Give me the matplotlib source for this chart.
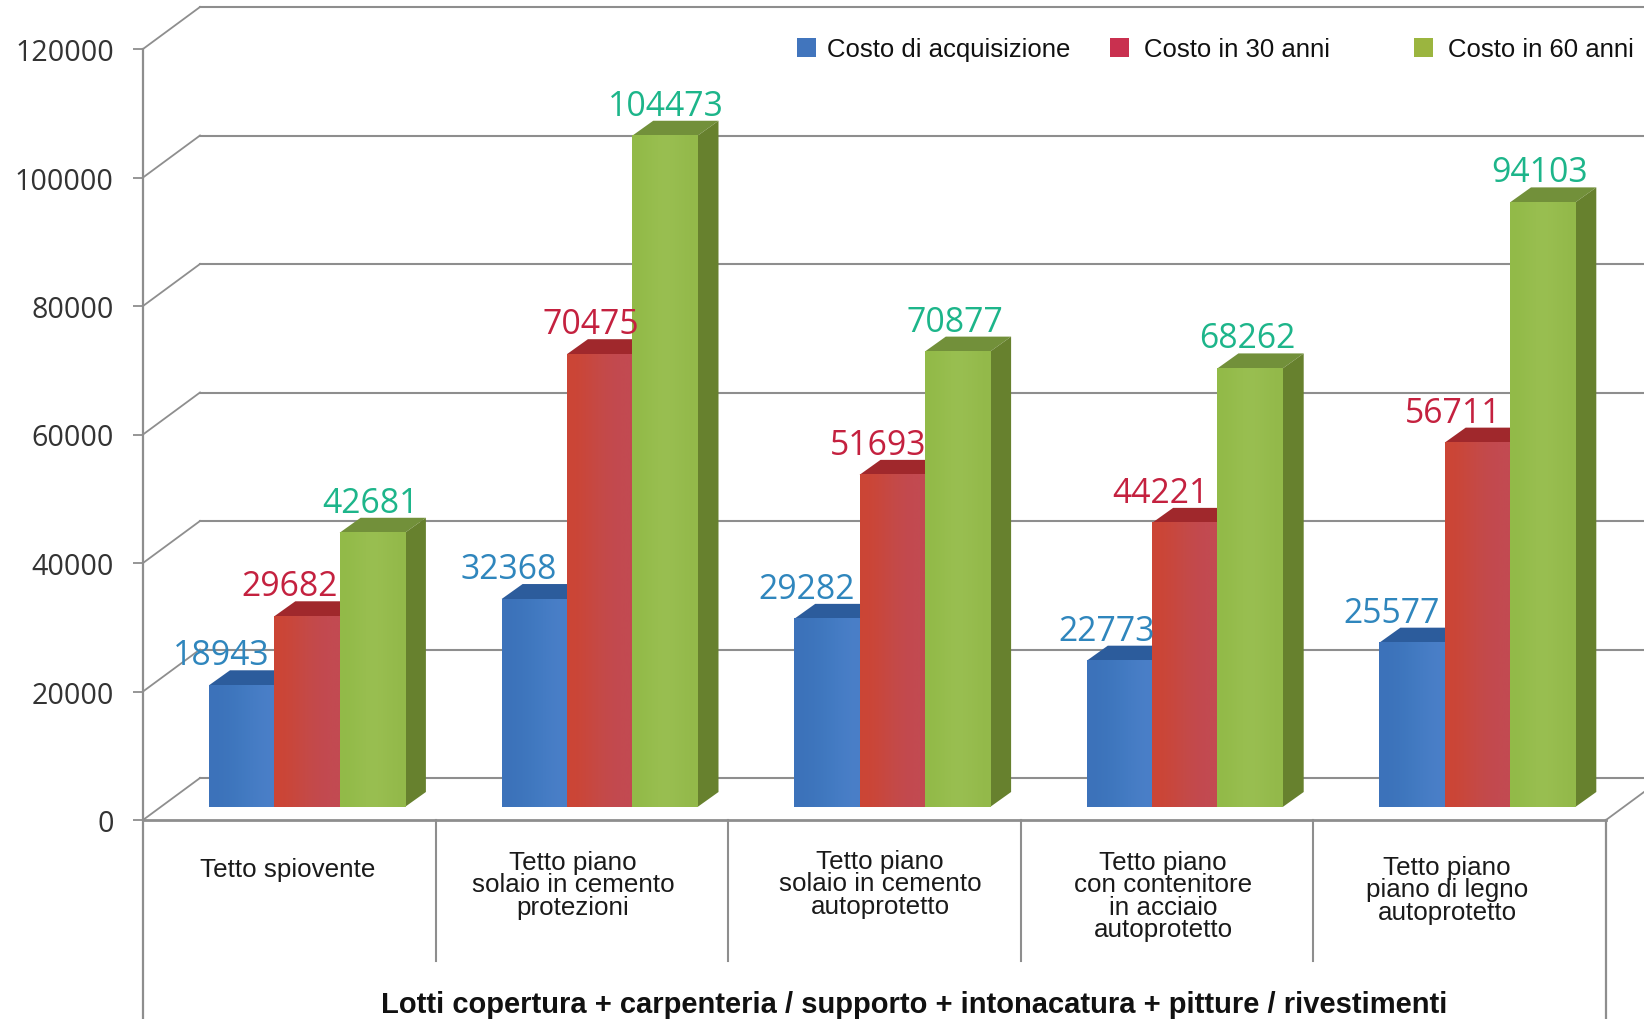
import matplotlib
matplotlib.use("Agg")
import matplotlib.pyplot as plt
from matplotlib.colors import to_rgb
from matplotlib.patches import Polygon, Rectangle
import numpy as np

W, H = 1644, 1020

categories = [
    "Tetto spiovente",
    "Tetto piano\nsolaio in cemento\nprotezioni",
    "Tetto piano\nsolaio in cemento\nautoprotetto",
    "Tetto piano\ncon contenitore\nin acciaio\nautoprotetto",
    "Tetto piano\npiano di legno\nautoprotetto",
]
series_names = ["Costo di acquisizione", "Costo in 30 anni", "Costo in 60 anni"]
acquisizione = [18943, 32368, 29282, 22773, 25577]
anni_30 = [29682, 70475, 51693, 44221, 56711]
anni_60 = [42681, 104473, 70877, 68262, 94103]
yticks = [0, 20000, 40000, 60000, 80000, 100000, 120000]
xlabel = "Lotti copertura + carpenteria / supporto + intonacatura + pitture / rivestimenti"

# horizontal nudge of each value label, pixels
label_dx = [
    [-20, -26, -20, -13, -20],
    [-17, -9, -14, -24, -24],
    [-2, 1, -3, -3, -3],
]
cat_label_top = [858, 851, 850, 851, 856]
cat_label_x = [288, 573, 880, 1163, 1447]

# left, middle and right colour across a bar's front face
face = [
    ["#3c72ba", "#4079c0", "#4a7fc8"],
    ["#cc4535", "#c44a48", "#c24a52"],
    ["#92ba48", "#9cc154", "#93b94a"],
]
top = ["#2c5c9c", "#a0282c", "#72903a"]
side = ["#2c5c9c", "#8e2a2a", "#67812e"]
label_col = ["#2f86bd", "#c4213f", "#1db58a"]
legend_col = ["#4175bd", "#c9304f", "#9bb53f"]
grid_col = "#8e8e8e"

fig = plt.figure(figsize=(W / 100, H / 100), dpi=100)
ax = fig.add_axes([143 / W, (H - 821) / H, 1463 / W, 771 / H])
ax.set_xlim(0, 5)
ax.set_ylim(0, 120000)
ax.patch.set_visible(False)

# pixels to data units
px = 5 / 1463
py = 120000 / 771

wall_dx, wall_dy = 57 * px, 42 * py
right_edge = 5 + 38 * px
bottom_edge = -(H - 821) * py

for s in ["top", "right", "bottom", "left"]:
    ax.spines[s].set_visible(False)

# back wall grid and the slanted lines on the side wall
for v in yticks:
    ax.plot([wall_dx, right_edge], [v + wall_dy] * 2, color=grid_col, lw=1.5, clip_on=False, zorder=1)
    ax.plot([0, wall_dx], [v, v + wall_dy], color=grid_col, lw=1.3, clip_on=False, zorder=1)

# floor edge, diagonal at the right and category dividers
ax.plot([0, 5], [0, 0], color=grid_col, lw=2, clip_on=False, zorder=2)
ax.plot([5, right_edge], [0, 28 * py], color=grid_col, lw=1.3, clip_on=False, zorder=1)
ax.plot([0, 0], [bottom_edge, 120000], color=grid_col, lw=1.6, clip_on=False, zorder=2)
ax.plot([5, 5], [bottom_edge, 0], color=grid_col, lw=1.6, clip_on=False, zorder=2)
for i in range(1, 5):
    ax.plot([i, i], [-141 * py, 0], color=grid_col, lw=1.5, clip_on=False, zorder=2)

ax.set_xticks([])
ax.set_yticks(yticks)
ax.set_yticklabels([str(v) for v in yticks], family="Open Sans", fontsize=20.6, color="#333333")
ax.tick_params(axis="y", length=7, width=1.3, color=grid_col, pad=14)

# 3D look: front face from ax.bar, side and top as offset polygons
bar_w = 65.3 * px
start = 66 * px
lift = 13 * py
depth_x, depth_y = 21 * px, 15 * py

for j, values in enumerate([acquisizione, anni_30, anni_60]):
    z = 5 + j
    xs = [i + start + j * bar_w for i in range(5)]
    ax.bar(xs, values, width=bar_w, bottom=lift, align="edge", color=face[j][1], zorder=z, clip_on=False)
    shade = np.array([[to_rgb(c) for c in face[j]]])
    for i, (x, v) in enumerate(zip(xs, values)):
        y1 = lift + v
        ax.imshow(shade, extent=(x, x + bar_w, lift, y1), aspect="auto", interpolation="bicubic",
                  zorder=z + 0.1, clip_on=False)
        ax.add_patch(Polygon(
            [(x, y1), (x + bar_w, y1), (x + bar_w + depth_x, y1 + depth_y), (x + depth_x, y1 + depth_y)],
            closed=True, fc=top[j], ec="none", zorder=z, clip_on=False))
        ax.add_patch(Polygon(
            [(x + bar_w, lift), (x + bar_w + depth_x, lift + depth_y),
             (x + bar_w + depth_x, y1 + depth_y), (x + bar_w, y1)],
            closed=True, fc=side[j], ec="none", zorder=z, clip_on=False))
        ax.annotate(str(v), (x + bar_w / 2, y1), xytext=(label_dx[j][i], 30),
                    textcoords="offset pixels", ha="center", va="center",
                    family="Open Sans", fontsize=24.3, color=label_col[j], zorder=20,
                    annotation_clip=False)

ax.set_xlim(0, 5)
ax.set_ylim(0, 120000)

# category labels under the floor
for name, tx, ty in zip(categories, cat_label_x, cat_label_top):
    fig.text(tx / W, 1 - ty / H, name, ha="center", va="top", family="Liberation Sans",
             fontsize=18.7, color="#1a1a1a", linespacing=0.92)

fig.text(914 / W, 1 - 1005 / H, xlabel, ha="center", va="center", family="Liberation Sans",
         fontsize=21, color="#111111", fontweight="bold")

# legend, spaced by hand because the gaps are uneven
legend_handle_x = [797, 1110, 1414]
legend_text_x = [827, 1144, 1448]
for j, name in enumerate(series_names):
    fig.add_artist(Rectangle((legend_handle_x[j] / W, 1 - 58 / H), 19 / W, 19 / H,
                             transform=fig.transFigure, fc=legend_col[j], ec="none"))
    fig.text(legend_text_x[j] / W, 1 - 50 / H, name, ha="left", va="center",
             family="Liberation Sans", fontsize=18.5, color="#111111")

fig.savefig("out.png", dpi=100)
